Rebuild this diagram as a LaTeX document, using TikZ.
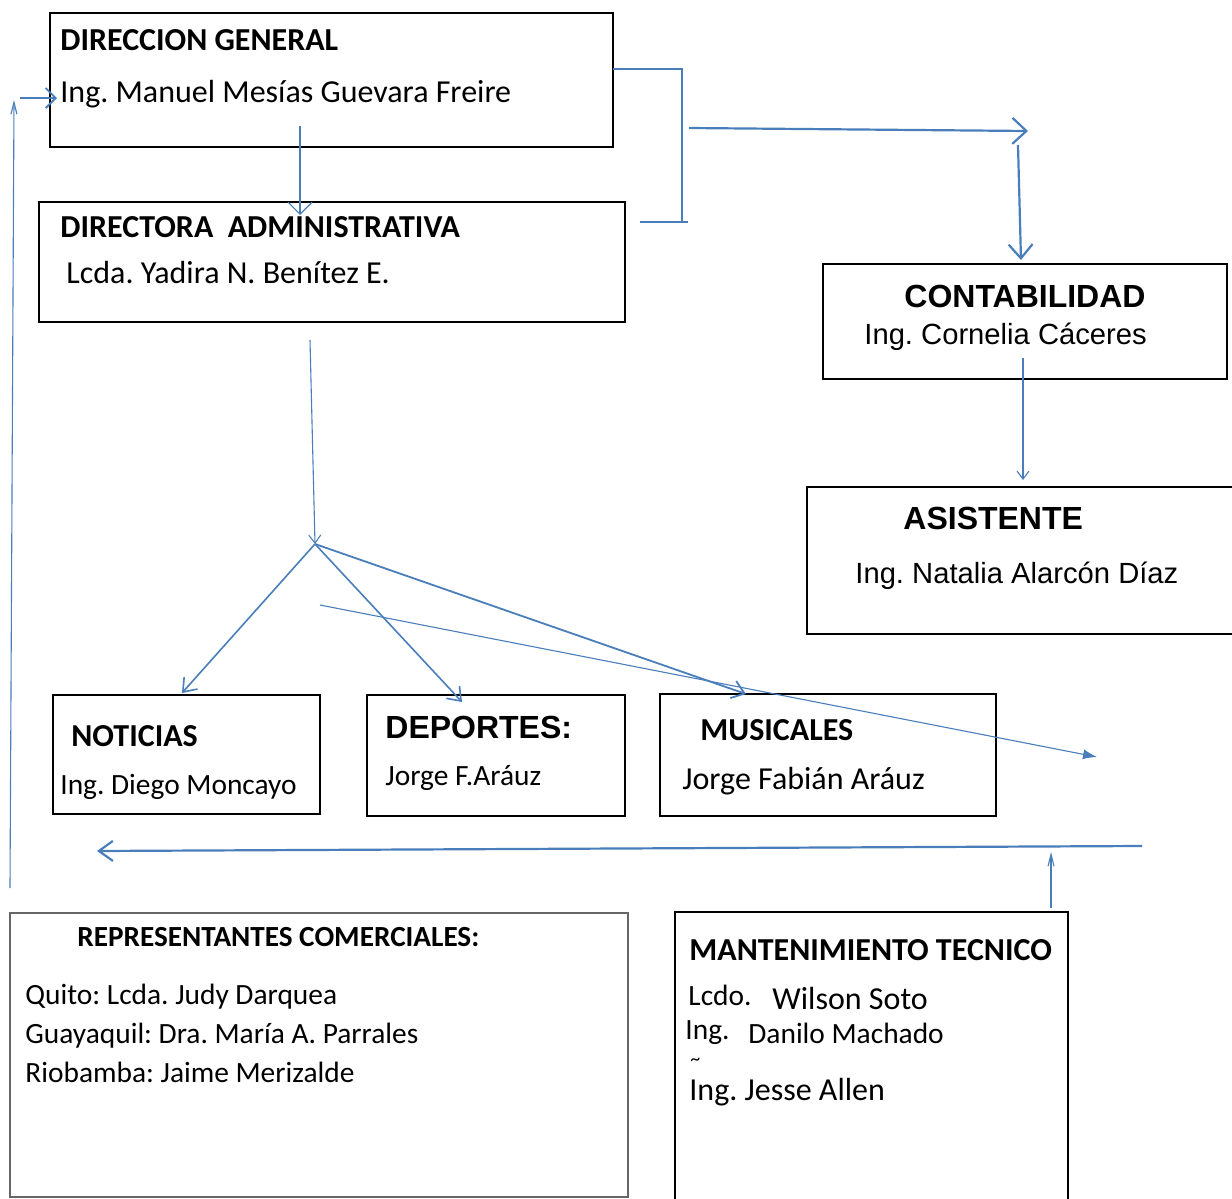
\documentclass[tikz,border=0pt]{standalone}
\usepackage{fontspec}
\setmainfont{Carlito}
\newfontfamily\arialf{Liberation Sans}
\usetikzlibrary{arrows.meta,fit}
\definecolor{lnblue}{RGB}{74,126,187}
\frenchspacing
\begin{document}
\begin{tikzpicture}[x=0.5pt,y=-0.5pt,
  box/.style={draw=black, line width=0.65pt, inner sep=0pt},
  gbox/.style={draw=black!60, line width=0.9pt, inner sep=0pt},
  txt/.style={anchor=base west, inner sep=0pt, font=\fontsize{16}{19}\selectfont},
  txtb/.style={anchor=base west, inner sep=0pt, font=\fontsize{16}{19}\selectfont\bfseries},
  stxt/.style={anchor=base west, inner sep=0pt, font=\fontsize{14.7}{18}\selectfont},
  atxt/.style={anchor=base west, inner sep=0pt, font=\arialf\fontsize{14.6}{18}\selectfont},
  atxtb/.style={anchor=base west, inner sep=0pt, font=\arialf\fontsize{16}{19}\selectfont\bfseries},
  thinln/.style={draw=lnblue, line width=0.55pt},
  thickln/.style={draw=lnblue, line width=1.1pt},
]
\useasboundingbox (0,0) rectangle (1232,1199);

% boxes
\node[box, fit={(50,13)(613,147)}] (dg) {};
\node[box, fit={(39,202)(625,322)}] (da) {};
\node[box, fit={(823,264)(1227,379)}] (co) {};
\node[box, fit={(807,487)(1238,634)}] (as) {};
\node[box, fit={(53,695)(320,814)}] (no) {};
\node[box, fit={(367,695)(625,816)}] (de) {};
\node[box, fit={(660,694)(996,816)}] (mu) {};
\node[gbox, fit={(10,913)(628,1197)}] (rc) {};
\node[box, fit={(675,912)(1068,1206)}] (mt) {};

% texts
\node[txtb] (dgT) at (60,50) {DIRECCION GENERAL};
\node[txt] (dgN) at (60,102) {Ing. Manuel Mesías Guevara Freire};
\node[txtb] (daT) at (60,237) {DIRECTORA\ \ ADMINISTRATIVA};
\node[txt] (daN) at (66,283) {Lcda. Yadira N. Benítez E.};
\node[atxtb] (coT) at (904,307) {CONTABILIDAD};
\node[atxt] (coN) at (864,344) {Ing. Cornelia Cáceres};
\node[atxtb] (asT) at (903,529) {ASISTENTE};
\node[atxt] (asN) at (855,583) {Ing. Natalia Alarcón Díaz};
\node[txtb] (noT) at (71,746) {NOTICIAS};
\node[stxt] (noN) at (60,794) {Ing. Diego Moncayo};
\node[atxtb] (deT) at (385,738) {DEPORTES:};
\node[stxt] (deN) at (385,785) {Jorge F.Aráuz};
\node[txtb] (muT) at (700,740) {MUSICALES};
\node[txt] (muN) at (682,789) {Jorge Fabián Aráuz};
\node[stxt, font=\fontsize{14.6}{18}\selectfont\bfseries] (rcT) at (77,946) {REPRESENTANTES COMERCIALES:};
\node[stxt] (rc1) at (25,1004) {Quito: Lcda. Judy Darquea};
\node[stxt] (rc2) at (25,1043) {Guayaquil: Dra. María A. Parrales};
\node[stxt] (rc3) at (25,1082) {Riobamba: Jaime Merizalde};
\node[txtb] (mtT) at (689,960) {MANTENIMIENTO TECNICO};
\node[stxt] (mt1a) at (688,1005) {Lcdo.};
\node[txt] (mt1b) at (772,1009) {Wilson Soto};
\node[stxt] (mt2a) at (685,1039) {Ing.};
\node[stxt] (mt2b) at (748,1043) {Danilo Machado};
\node[anchor=base west, inner sep=0pt, font=\fontsize{10}{11}\selectfont] (mtt) at (690,1065) {\textasciitilde};
\node[txt] (mt3) at (689,1100) {Ing. Jesse Allen};

% connector coordinates
\coordinate (a1s) at (300,126);  \coordinate (a1e) at (300,215);
\coordinate (l1s) at (10,888);   \coordinate (l1e) at (14,100);
\coordinate (l2s) at (20,98);    \coordinate (l2e) at (57,98);
\coordinate (b1) at (613,69); \coordinate (b2) at (682,69); \coordinate (b3) at (682,222);
\coordinate (b4) at (640,222); \coordinate (b5) at (688,222);
\coordinate (h1s) at (689,128);  \coordinate (h1e) at (1028,131);
\coordinate (v1s) at (1018,145); \coordinate (v1e) at (1021,260);
\coordinate (v2s) at (1023,358); \coordinate (v2e) at (1023,480);
\coordinate (v3s) at (310,340);  \coordinate (hub) at (315,544);
\coordinate (nE) at (182,693);   \coordinate (dE) at (462,702);
\coordinate (mE) at (746,694);
\coordinate (dgs) at (320,605);  \coordinate (dge) at (1097,757);
\coordinate (hls) at (1142,846); \coordinate (hle) at (97,851);
\coordinate (ups) at (1051,908); \coordinate (upe) at (1051,852);

% connectors
\draw[thinln, -{Straight Barb[length=6pt,width=12pt]}] (a1s) -- (a1e);
\draw[thinln, -{Straight Barb[length=6pt,width=3pt]}] (l1s) -- (l1e);
\draw[thinln, line width=0.9pt, -{Straight Barb[length=5pt,width=10pt]}] (l2s) -- (l2e);
\draw[thickln] (b1) -- (b2) -- (b3);
\draw[thickln] (b4) -- (b5);
\draw[thickln, -{Straight Barb[length=7pt,width=13pt]}] (h1s) -- (h1e);
\draw[thickln, -{Straight Barb[length=7pt,width=12pt]}] (v1s) -- (v1e);
\draw[thinln, -{Straight Barb[length=4pt,width=6pt]}] (v2s) -- (v2e);
\draw[thinln, -{Straight Barb[length=4pt,width=6pt]}] (v3s) -- (hub);
\draw[thinln, line width=0.8pt, -{Straight Barb[length=6pt,width=9pt]}] (hub) -- (nE);
\draw[thinln, line width=0.8pt, -{Straight Barb[length=6pt,width=9pt]}] (hub) -- (dE);
\draw[thinln, line width=0.9pt, -{Straight Barb[length=6pt,width=9pt]}] (hub) -- (mE);
\draw[thinln, -{Latex[length=7pt,width=5pt]}] (dgs) -- (dge);
\draw[thickln, -{Straight Barb[length=7pt,width=10pt]}] (hls) -- (hle);
\draw[thinln, -{Straight Barb[length=6pt,width=3pt]}] (ups) -- (upe);
\end{tikzpicture}
\end{document}
